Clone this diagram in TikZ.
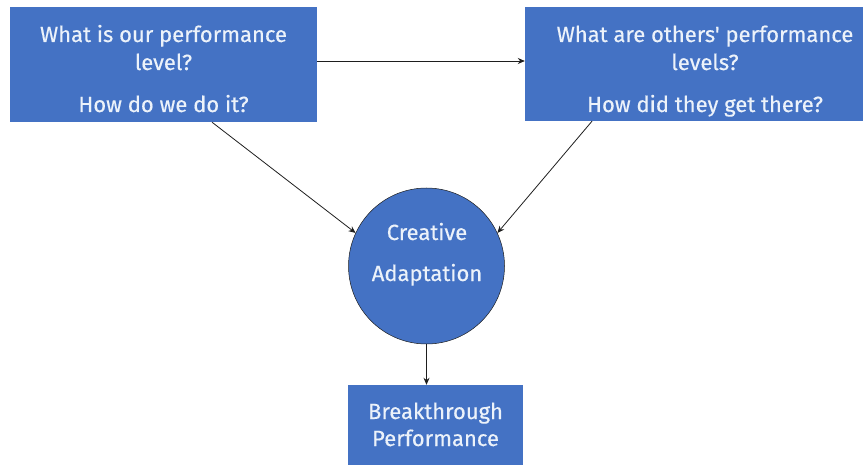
\documentclass[tikz,border=0pt]{standalone}
\usepackage{fontspec}
\setmainfont{Fira Sans}
\newfontfamily\labelfont{Fira Sans}[FakeBold=0.4]
\usetikzlibrary{arrows.meta}
\definecolor{boxblue}{RGB}{68,114,196}
\definecolor{boxtext}{RGB}{236,242,250}
\definecolor{linkcol}{RGB}{30,30,30}
\tikzset{
  panel/.style={fill=boxblue, draw=none, inner sep=0pt, rectangle},
  hub/.style={fill=boxblue, draw=linkcol, line width=0.5pt, circle, inner sep=0pt, minimum size=156pt},
  label/.style={text=boxtext, align=center, inner sep=0pt, anchor=base},
  link/.style={draw=linkcol, line width=0.8pt, -{Stealth[length=7pt,width=6pt]}}
}
\begin{document}
\begin{tikzpicture}[x=1pt,y=-1pt]
  \useasboundingbox (0,0) rectangle (867,465);
  % panels
  \node[panel, minimum width=307pt, minimum height=115pt] (own) at (163.5,64.5) {};
  \node[panel, minimum width=338pt, minimum height=114pt] (others) at (694,64) {};
  \node[hub] (adapt) at (426.5,266) {};
  \node[panel, minimum width=175pt, minimum height=85pt] (result) at (435.5,427.5) {};
  % texts (anchored at the baseline of their last line)
  \node[label, font=\labelfont\fontsize{22}{28}\selectfont] (owntxt) at (163.5,112)
    {What is our performance\\level?\\[14pt]How do we do it?};
  \node[label, font=\labelfont\fontsize{22}{28}\selectfont] (otherstxt) at (705,112)
    {What are others' performance\\levels?\\[14pt]How did they get there?};
  \node[label, font=\labelfont\fontsize{22}{41}\selectfont] (adapttxt) at (427,281)
    {Creative\\Adaptation};
  \node[label, font=\labelfont\fontsize{22}{27}\selectfont] (resulttxt) at (435.5,446)
    {Breakthrough\\Performance};
  % connectors
  \draw[link] ([yshift=3.5pt]own.east) -- ([yshift=3pt]others.west);
  \draw[link] ([xshift=48.5pt]own.south) -- (adapt.155);
  \draw[link] ([xshift=-102pt]others.south) -- (adapt.25);
  \draw[link] (adapt.south) -- (adapt.south |- result.north);
\end{tikzpicture}
\end{document}
